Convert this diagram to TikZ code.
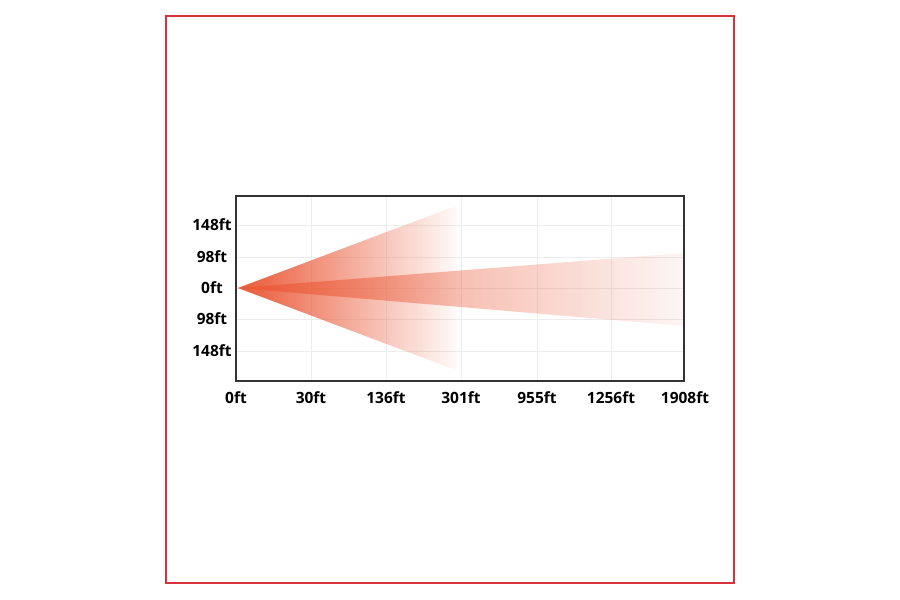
\documentclass[tikz,border=0pt]{standalone}
\usepackage{fontspec}
\setsansfont{Open Sans}
\usetikzlibrary{fadings}
\definecolor{beamred}{HTML}{EB5836}
\definecolor{framered}{HTML}{D8323A}
\tikzfading[name=fadewide, left color=transparent!0, middle color=transparent!70, right color=transparent!100]
\tikzfading[name=fadenarrow, left color=transparent!30, middle color=transparent!55, right color=transparent!95]
\begin{document}
\begin{tikzpicture}[x=1pt,y=-1pt,font=\sffamily\bfseries\fontsize{15.5}{17}\selectfont]
                \useasboundingbox[fill=white] (0,0) rectangle (900,600);
                \draw[framered,line width=1.8pt] (166,16) rectangle (734,583);
                \foreach \x in {311,386,461,537,611} \draw[black!7] (\x,196) -- (\x,381);
                \foreach \y in {225,257,288,319,351} \draw[black!7] (236,\y) -- (684,\y);
                \coordinate (O) at (238,288);
                \fill[beamred,path fading=fadewide] (O) -- (461,204) -- (461,372) -- cycle;
                \fill[beamred,path fading=fadenarrow] (O) -- (684,253) -- (684,326) -- cycle;
                \draw[black!80,line width=1.1pt] (236,196) rectangle (684,381);
                \foreach \y/\t [count=\i] in {225/148ft,257/98ft,288/0ft,319/98ft,351/148ft}
                    \node (Y\i) at (212,\y) {\t};
                \foreach \x/\t [count=\i] in {236/0ft,311/30ft,386/136ft,461/301ft,537/955ft,611/1256ft,685/1908ft}
                    \node (X\i) at (\x,398) {\t};
            \end{tikzpicture}
\end{document}
